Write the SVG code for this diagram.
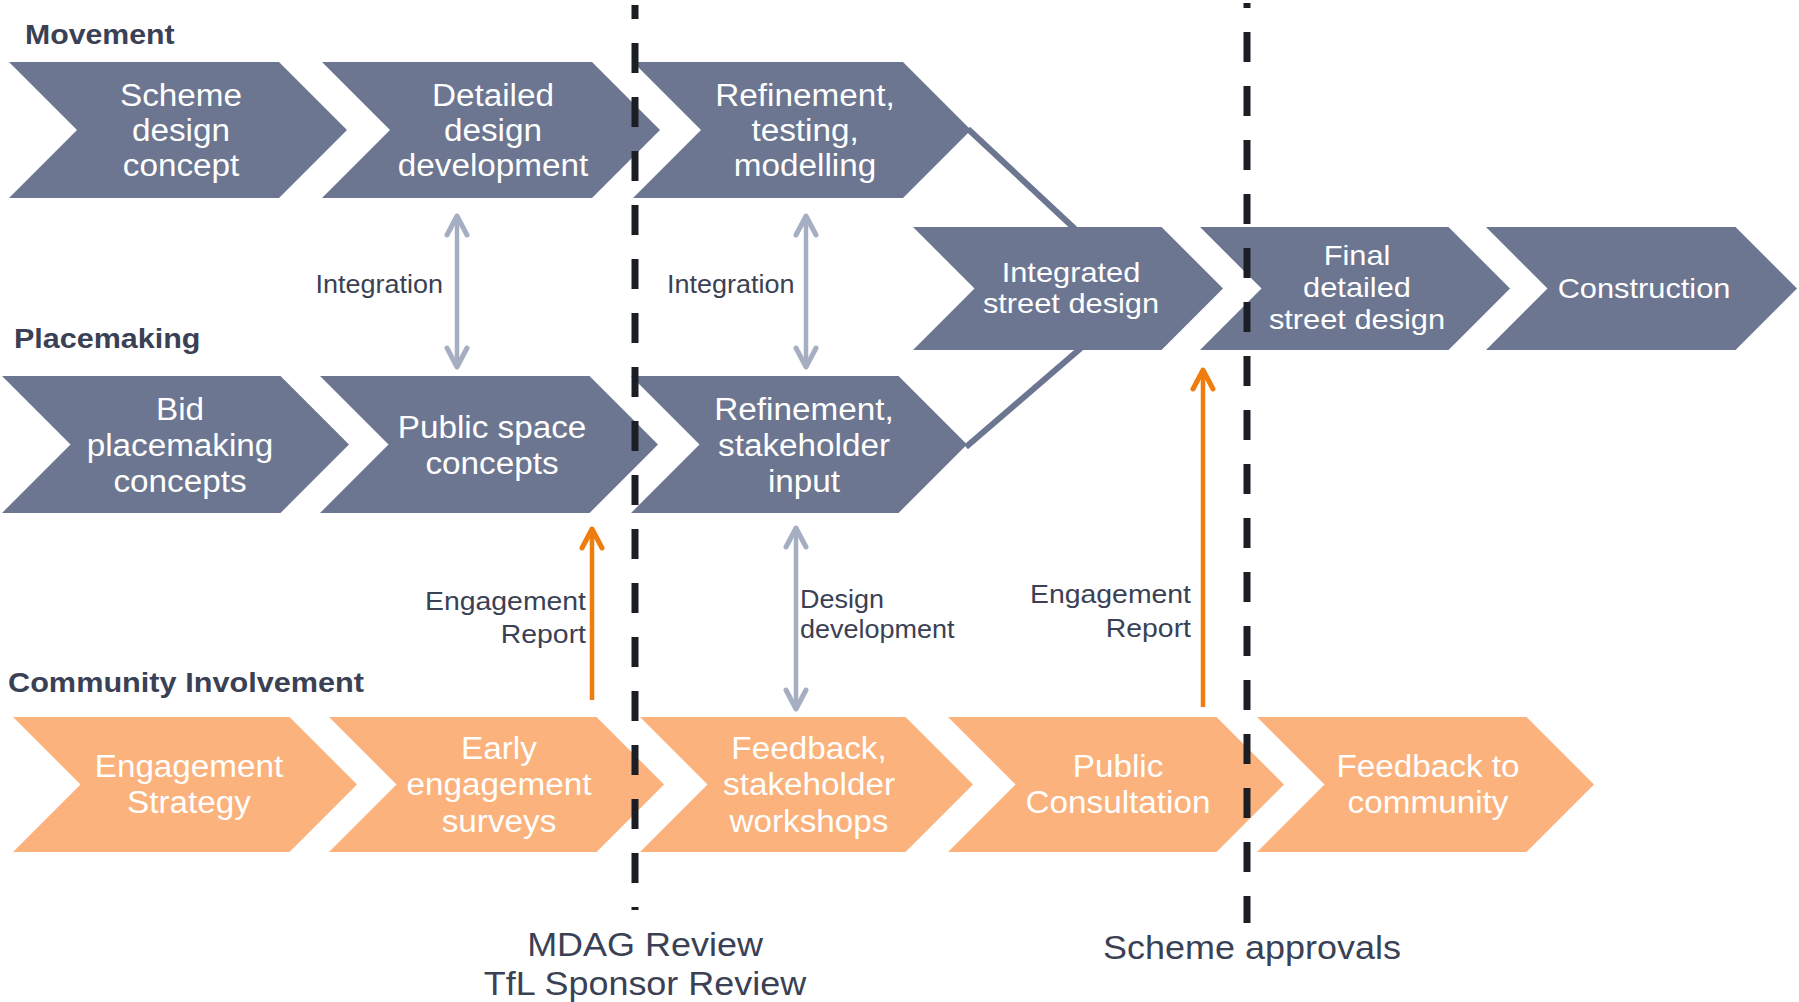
<svg xmlns="http://www.w3.org/2000/svg" width="1799" height="1002" viewBox="0 0 1799 1002">
<defs>
<style>
.bg{fill:#ffffff}
.sl{fill:#6C7691}
.or{fill:#FBB27C}
.tw{font-family:"Liberation Sans",Arial,sans-serif;fill:#ffffff;text-anchor:middle;font-size:30.8px}
.tw2{font-family:"Liberation Sans",Arial,sans-serif;fill:#ffffff;text-anchor:middle;font-size:28.5px}
.hd{font-family:"Liberation Sans",Arial,sans-serif;fill:#3A4154;font-weight:bold;font-size:28px}
.lb{font-family:"Liberation Sans",Arial,sans-serif;fill:#3A4154;font-size:25px}
.lb2{font-family:"Liberation Sans",Arial,sans-serif;fill:#3A4154;font-size:26.3px}
.bt{font-family:"Liberation Sans",Arial,sans-serif;fill:#3A4154;font-size:33px;text-anchor:middle}
.end{text-anchor:end}
.dash{stroke:#1B1E25;stroke-width:7;fill:none;stroke-dasharray:30 24}
.link{stroke:#6C7691;stroke-width:6;fill:none}
.ag{stroke:#A6AFC2;stroke-width:4.5;fill:none}
.ao{stroke:#EE7D0E;stroke-width:4.5;fill:none}
</style>
<marker id="mg" viewBox="-26 -16 30 32" markerWidth="30" markerHeight="32" refX="0" refY="0" orient="auto-start-reverse" markerUnits="userSpaceOnUse">
<path d="M-19,-10 L0,0 L-19,10" fill="none" stroke="#A6AFC2" stroke-width="5" stroke-linecap="round" stroke-linejoin="round"/>
</marker>
<marker id="mo" viewBox="-26 -16 30 32" markerWidth="30" markerHeight="32" refX="0" refY="0" orient="auto-start-reverse" markerUnits="userSpaceOnUse">
<path d="M-19,-10 L0,0 L-19,10" fill="none" stroke="#EE7D0E" stroke-width="5" stroke-linecap="round" stroke-linejoin="round"/>
</marker>
</defs>
<rect class="bg" x="0" y="0" width="1799" height="1002"/>

<g id="headers">
<text class="hd" transform="translate(25 0) scale(1.08 1)" x="0" y="44">Movement</text>
<text class="hd" transform="translate(14 0) scale(1.09 1)" x="0" y="348">Placemaking</text>
<text class="hd" transform="translate(8 0) scale(1.095 1)" x="0" y="692">Community Involvement</text>
</g>

<g id="connectors">
<line class="link" x1="968" y1="129" x2="1075" y2="229"/>
<line class="link" x1="966" y1="447" x2="1081" y2="348"/>
<line class="ag" x1="457" y1="216" x2="457" y2="367" marker-start="url(#mg)" marker-end="url(#mg)"/>
<line class="ag" x1="806" y1="216" x2="806" y2="367" marker-start="url(#mg)" marker-end="url(#mg)"/>
<line class="ag" x1="796" y1="528" x2="796" y2="709" marker-start="url(#mg)" marker-end="url(#mg)"/>
<line class="ao" x1="592" y1="700" x2="592" y2="529" marker-end="url(#mo)"/>
<line class="ao" x1="1203" y1="707" x2="1203" y2="370" marker-end="url(#mo)"/>
<text class="lb end" transform="translate(443 0) scale(1.08 1)" x="0" y="293">Integration</text>
<text class="lb" transform="translate(667 0) scale(1.08 1)" x="0" y="293">Integration</text>
<text class="lb2 end" transform="translate(586 0) scale(1.08 1)"><tspan x="0" y="610">Engagement</tspan><tspan x="0" y="643">Report</tspan></text>
<text class="lb" transform="translate(800 0) scale(1.08 1)"><tspan x="0" y="608">Design</tspan><tspan x="0" y="638">development</tspan></text>
<text class="lb2 end" transform="translate(1191 0) scale(1.08 1)"><tspan x="0" y="603">Engagement</tspan><tspan x="0" y="637">Report</tspan></text>
</g>

<g id="scheme-design-concept">
<path class="sl" d="M9,62 L279,62 L347,130 L279,198 L9,198 L77,130 Z"/>
<text class="tw" transform="translate(181 0) scale(1.08 1)"><tspan x="0" y="106">Scheme</tspan><tspan x="0" y="141">design</tspan><tspan x="0" y="176">concept</tspan></text>
</g>
<g id="detailed-design-development">
<path class="sl" d="M322,62 L592,62 L660,130 L592,198 L322,198 L390,130 Z"/>
<text class="tw" transform="translate(493 0) scale(1.08 1)"><tspan x="0" y="106">Detailed</tspan><tspan x="0" y="141">design</tspan><tspan x="0" y="176">development</tspan></text>
</g>
<g id="refinement-testing-modelling">
<path class="sl" d="M633,62 L903,62 L971,130 L903,198 L633,198 L701,130 Z"/>
<text class="tw" transform="translate(805 0) scale(1.08 1)"><tspan x="0" y="106">Refinement,</tspan><tspan x="0" y="141">testing,</tspan><tspan x="0" y="176">modelling</tspan></text>
</g>

<g id="bid-placemaking-concepts">
<path class="sl" d="M2,376 L280.5,376 L349,444.5 L280.5,513 L2,513 L70.5,444.5 Z"/>
<text class="tw" transform="translate(180 0) scale(1.08 1)"><tspan x="0" y="420">Bid</tspan><tspan x="0" y="456">placemaking</tspan><tspan x="0" y="492.5">concepts</tspan></text>
</g>
<g id="public-space-concepts">
<path class="sl" d="M320,376 L589.5,376 L658,444.5 L589.5,513 L320,513 L388.5,444.5 Z"/>
<text class="tw" transform="translate(492 0) scale(1.08 1)"><tspan x="0" y="438">Public space</tspan><tspan x="0" y="474.5">concepts</tspan></text>
</g>
<g id="refinement-stakeholder-input">
<path class="sl" d="M631,376 L898.5,376 L967,444.5 L898.5,513 L631,513 L699.5,444.5 Z"/>
<text class="tw" transform="translate(804 0) scale(1.08 1)"><tspan x="0" y="420">Refinement,</tspan><tspan x="0" y="456">stakeholder</tspan><tspan x="0" y="492.5">input</tspan></text>
</g>

<g id="integrated-street-design">
<path class="sl" d="M913,227 L1161.5,227 L1223,288.5 L1161.5,350 L913,350 L974.5,288.5 Z"/>
<text class="tw2" transform="translate(1071 0) scale(1.08 1)"><tspan x="0" y="282">Integrated</tspan><tspan x="0" y="313">street design</tspan></text>
</g>
<g id="final-detailed-street-design">
<path class="sl" d="M1200,227 L1448.5,227 L1510,288.5 L1448.5,350 L1200,350 L1261.5,288.5 Z"/>
<text class="tw2" transform="translate(1357 0) scale(1.08 1)"><tspan x="0" y="265">Final</tspan><tspan x="0" y="297">detailed</tspan><tspan x="0" y="329">street design</tspan></text>
</g>
<g id="construction">
<path class="sl" d="M1486,227 L1735.5,227 L1797,288.5 L1735.5,350 L1486,350 L1547.5,288.5 Z"/>
<text class="tw2" transform="translate(1644 0) scale(1.08 1)" x="0" y="298">Construction</text>
</g>

<g id="engagement-strategy">
<path class="or" d="M13,717 L289.5,717 L357,784.5 L289.5,852 L13,852 L80.5,784.5 Z"/>
<text class="tw" transform="translate(189 0) scale(1.08 1)"><tspan x="0" y="777">Engagement</tspan><tspan x="0" y="813.5">Strategy</tspan></text>
</g>
<g id="early-engagement-surveys">
<path class="or" d="M329,717 L596.5,717 L664,784.5 L596.5,852 L329,852 L396.5,784.5 Z"/>
<text class="tw" transform="translate(499 0) scale(1.08 1)"><tspan x="0" y="759">Early</tspan><tspan x="0" y="795.5">engagement</tspan><tspan x="0" y="832">surveys</tspan></text>
</g>
<g id="feedback-stakeholder-workshops">
<path class="or" d="M640,717 L905.5,717 L973,784.5 L905.5,852 L640,852 L707.5,784.5 Z"/>
<text class="tw" transform="translate(809 0) scale(1.08 1)"><tspan x="0" y="759">Feedback,</tspan><tspan x="0" y="795.5">stakeholder</tspan><tspan x="0" y="832">workshops</tspan></text>
</g>
<g id="public-consultation">
<path class="or" d="M948,717 L1216.5,717 L1284,784.5 L1216.5,852 L948,852 L1015.5,784.5 Z"/>
<text class="tw" transform="translate(1118 0) scale(1.08 1)"><tspan x="0" y="777">Public</tspan><tspan x="0" y="813.5">Consultation</tspan></text>
</g>
<g id="feedback-to-community">
<path class="or" d="M1257,717 L1526.5,717 L1594,784.5 L1526.5,852 L1257,852 L1324.5,784.5 Z"/>
<text class="tw" transform="translate(1428 0) scale(1.08 1)"><tspan x="0" y="777">Feedback to</tspan><tspan x="0" y="813.5">community</tspan></text>
</g>

<g id="milestones">
<line class="dash" x1="635" y1="5" x2="635" y2="910" stroke-dashoffset="16"/>
<line class="dash" x1="1247" y1="3" x2="1247" y2="923" stroke-dashoffset="25"/>
<text class="bt" transform="translate(645 0) scale(1.09 1)"><tspan x="0" y="956">MDAG Review</tspan><tspan x="0" y="995">TfL Sponsor Review</tspan></text>
<text class="bt" transform="translate(1252 0) scale(1.09 1)" x="0" y="959">Scheme approvals</text>
</g>
</svg>
